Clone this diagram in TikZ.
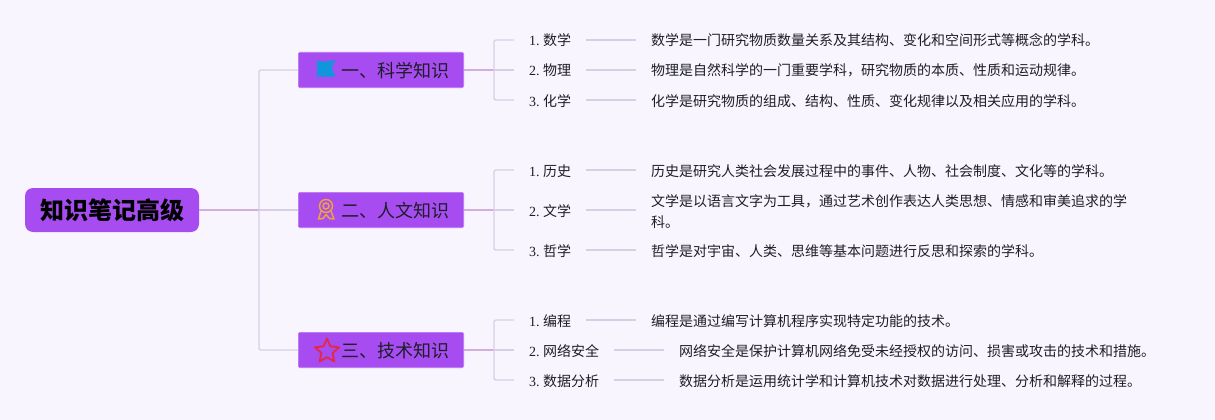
\documentclass[tikz,border=0pt]{standalone}
\usepackage{fontspec}
\setmainfont{Liberation Serif}
\newfontfamily\cjk{Noto Sans CJK SC}
\definecolor{bgc}{HTML}{F9F5FF}
\definecolor{boxc}{HTML}{A64CF0}
\definecolor{edgec}{HTML}{BC78F2}
\definecolor{linec}{HTML}{D8CFE6}
\definecolor{pinkc}{HTML}{CDB0DC}
\definecolor{inkc}{HTML}{1E1E28}
\definecolor{flagc}{HTML}{1296DB}
\definecolor{ribc}{HTML}{F0A23C}
\definecolor{starc}{HTML}{E02A4A}
\tikzset{
  rootbox/.style={fill=boxc,rounded corners=8pt,minimum width=174pt,minimum height=44pt,inner sep=0pt,text=black,font=\cjk\bfseries\fontsize{24}{28}\selectfont},
  subbox/.style={fill=boxc,draw=edgec,line width=0.6pt,rounded corners=1.5pt,minimum width=165.4pt,minimum height=35.4pt,inner sep=0pt,text=inkc,font=\cjk\fontsize{18}{22}\selectfont},
  leaf/.style={anchor=west,inner xsep=15pt,inner ysep=0pt,text=inkc,font=\fontsize{14}{18}\selectfont},
  desc/.style={anchor=west,inner xsep=15pt,inner ysep=0pt,text=inkc,font=\cjk\fontsize{14}{21}\selectfont},
  wire/.style={draw=linec,line width=1.4pt,rounded corners=2pt},
  wirein/.style={draw=pinkc,line width=1.4pt},
}
\newcommand{\lw}[2]{\raisebox{#1}[0pt][0pt]{#2}}
\newcommand{\lf}[2]{\lw{-6pt}{#1.\ {\cjk #2}}}
\newcommand{\ds}[1]{\lw{-6pt}{#1}}
\begin{document}
\begin{tikzpicture}[x=1pt,y=-1pt]
\path[use as bounding box,fill=bgc] (0,0) rectangle (1215,420);
\node[rootbox] (root) at (112,210) {\lw{-9pt}{知识笔记高级}};
\node[subbox] (s1) at (381,70) {\lw{-7.5pt}{\hspace*{28pt}一、科学知识}};
\node[subbox] (s2) at (381,210) {\lw{-7.5pt}{\hspace*{28pt}二、人文知识}};
\node[subbox] (s3) at (381,350) {\lw{-7.5pt}{\hspace*{28pt}三、技术知识}};
\coordinate (t) at (259,210);
\draw[wirein] (root.east) -- (t);
\draw[wire] (t) -- (s2.west);
\draw[wire] (t) -- (259,70) -- (s1.west);
\draw[wire] (t) -- (259,350) -- (s3.west);
% group 1
\node[leaf] (a1) at (514,40) {\lf{1}{数学}};
\node[leaf] (a2) at (514,70) {\lf{2}{物理}};
\node[leaf] (a3) at (514,100) {\lf{3}{化学}};
\node[desc] (da1) at (636,40) {\ds{数学是一门研究物质数量关系及其结构、变化和空间形式等概念的学科。}};
\node[desc] (da2) at (636,70) {\ds{物理是自然科学的一门重要学科，研究物质的本质、性质和运动规律。}};
\node[desc] (da3) at (636,100) {\ds{化学是研究物质的组成、结构、性质、变化规律以及相关应用的学科。}};
% group 2
\node[leaf] (b1) at (514,170) {\lf{1}{历史}};
\node[leaf] (b2) at (514,210) {\lf{2}{文学}};
\node[leaf] (b3) at (514,250) {\lf{3}{哲学}};
\node[desc] (db1) at (636,170) {\ds{历史是研究人类社会发展过程中的事件、人物、社会制度、文化等的学科。}};
\node[desc] (db2) at (636,210) {\lw{3.7pt}{\begin{tabular}[t]{@{}l@{}}文学是以语言文字为工具，通过艺术创作表达人类思想、情感和审美追求的学\\科。\end{tabular}}};
\node[desc] (db3) at (636,250) {\ds{哲学是对宇宙、人类、思维等基本问题进行反思和探索的学科。}};
% group 3
\node[leaf] (c1) at (514,320) {\lf{1}{编程}};
\node[leaf] (c2) at (514,350) {\lf{2}{网络安全}};
\node[leaf] (c3) at (514,380) {\lf{3}{数据分析}};
\node[desc] (dc1) at (636,320) {\ds{编程是通过编写计算机程序实现特定功能的技术。}};
\node[desc] (dc2) at (664,350) {\ds{网络安全是保护计算机网络免受未经授权的访问、损害或攻击的技术和措施。}};
\node[desc] (dc3) at (664,380) {\ds{数据分析是运用统计学和计算机技术对数据进行处理、分析和解释的过程。}};
\foreach \g/\s/\y/\h in {a/s1/70/30,b/s2/210/40,c/s3/350/30}{
  \coordinate (j\g) at (494,\y);
  \draw[wirein] (\s.east) -- (j\g);
  \draw[wire] (j\g) -- (\g2.west);
  \draw[wire] (\g1.west) -- (494,\y-\h) -- (494,\y+\h) -- (\g3.west);
  \foreach \i in {1,2,3}{\draw[wire] (\g\i.east) -- (d\g\i.west);}
}
% icons
\fill[flagc] (317,60.5) .. controls (322,62) and (328,61.5) .. (335.5,60) -- (331.5,68) -- (335.5,76) .. controls (328,77.5) and (322,77) .. (318.5,76) -- (318,79) -- (317,79) -- cycle;
\draw[ribc,line width=1.5pt] (326,206) circle (6.5) (326,206) circle (3);
\draw[ribc,line width=1.5pt,line join=round] (321,211) -- (318.5,219) -- (323,218.5) -- (326,214.5) -- (329.5,218.5) -- (334,219) -- (331,211);
\draw[starc,line width=1.9pt,line join=round] (327,338.5) -- (330.4,346.3) -- (339,347.3) -- (332.6,353) -- (334.4,361.5) -- (327,357.2) -- (319.6,361.5) -- (321.4,353) -- (315,347.3) -- (323.6,346.3) -- cycle;
\end{tikzpicture}
\end{document}
